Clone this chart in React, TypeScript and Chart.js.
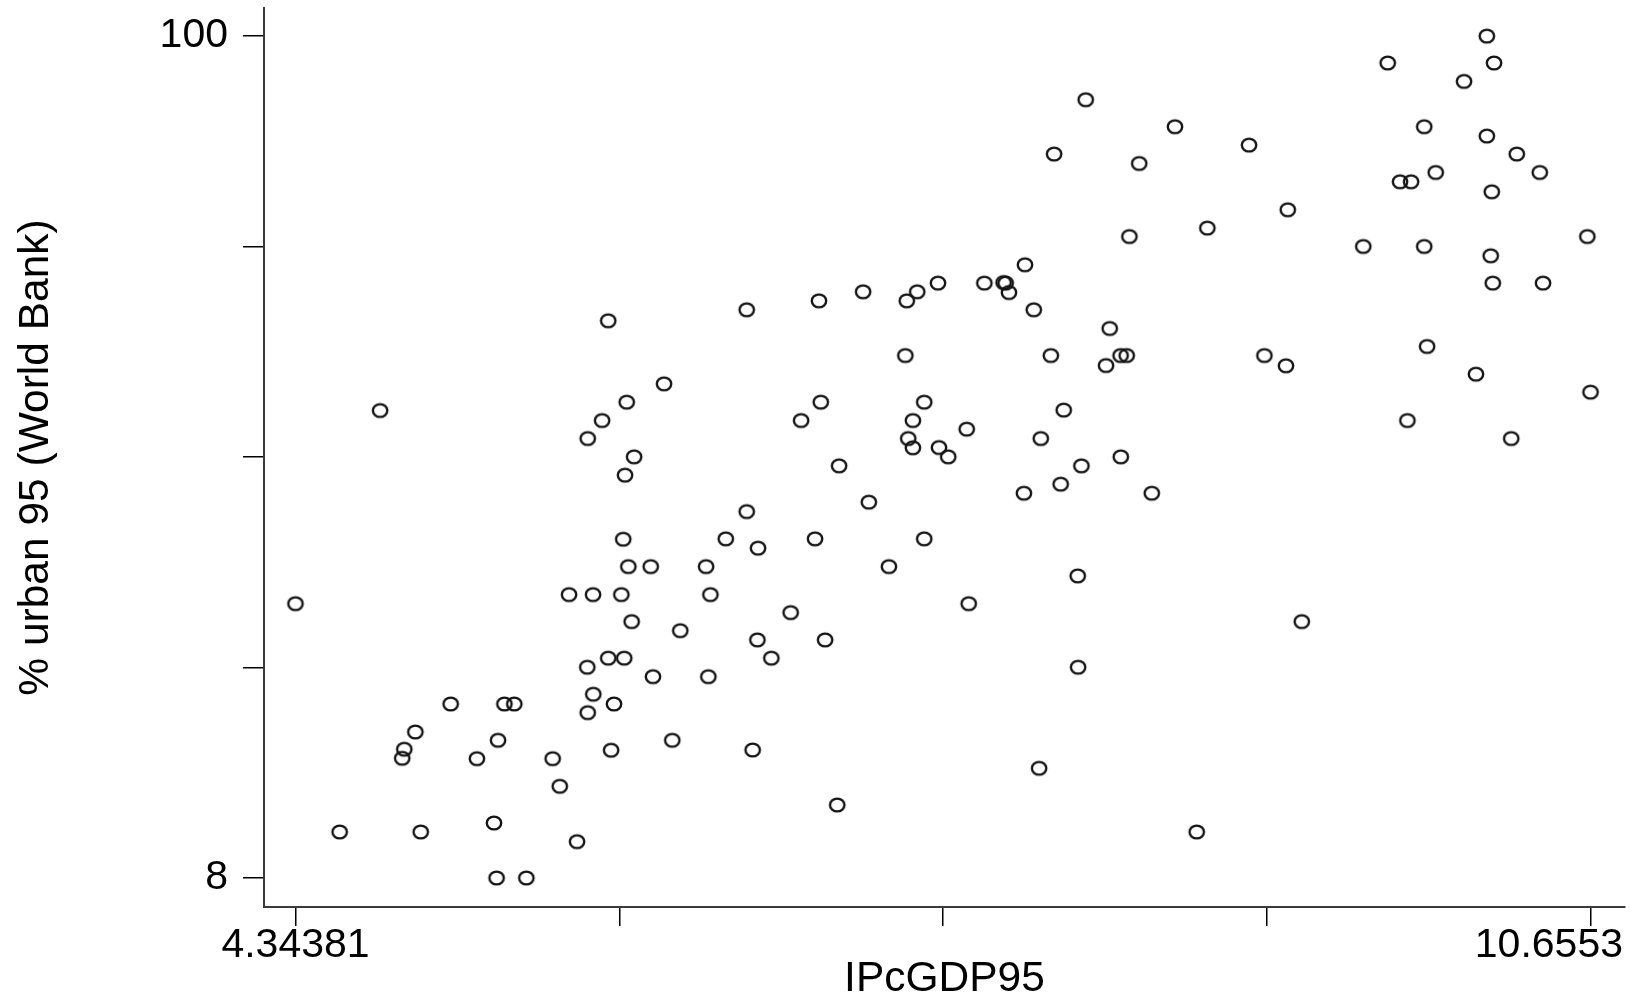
import React, { useEffect, useRef } from "react";
import { Chart, registerables } from "chart.js";

Chart.register(...registerables);

// log GDP per capita 1995
const lPcGDP95: number[] = [
  8.195, 8.041, 8.456, 8.408, 7.899, 6.543, 6.895, 7.110, 7.323, 7.374, 7.475, 7.701, 7.795, 7.805, 7.821, 7.942,
  10.150, 9.667, 10.185, 10.039, 8.630, 8.991, 9.845, 10.150, 10.296, 10.408, 9.901, 9.727, 9.781, 10.174, 9.180,
  8.788, 9.548, 9.845, 10.169, 10.640, 10.179, 10.424,
  5.868, 4.756, 6.140, 5.958, 5.838, 5.768, 5.994, 5.950, 4.34381, 5.941, 5.966, 6.075, 6.345, 5.677, 5.794, 5.932,
  6.366, 5.982, 6.219,
  8.312, 7.316, 8.025, 8.294, 8.365, 8.395, 6.904, 6.808, 7.408, 7.353, 7.330, 7.353, 7.480, 7.525, 7.615, 8.088,
  7.976, 8.366, 8.174, 8.073, 7.894, 8.517, 6.993, 7.138, 6.543, 6.441, 6.598, 6.876, 7.408, 7.236, 8.156, 6.757,
  7.625, 6.595, 6.925, 6.663, 8.158, 6.572, 7.968, 6.984,
  5.868, 5.946, 5.766, 6.086, 6.356, 5.100, 5.362, 5.410, 5.795, 5.896, 5.768, 4.928, 4.874, 4.864, 5.228, 5.331,
  5.597, 5.882, 6.180, 5.632, 4.559, 4.954, 5.311, 5.716, 5.324, 5.469,
  9.066, 9.171, 9.859, 10.097, 10.6553, 9.763, 10.269, 9.248, 8.736,
];

// % urban 1995 (World Bank)
const urban95: number[] = [
  93.05, 87.11, 86.08, 78.10, 75.01, 70.09, 71.07, 72.06, 71.07, 72.06, 73.01, 73.01, 73.07, 73.01, 71.98, 70.09,
  100.0, 97.06, 97.06, 95.05, 90.10, 88.09, 90.10, 89.08, 87.11, 85.10, 85.10, 84.08, 84.08, 82.99, 81.02,
  79.02, 77.01, 77.01, 75.99, 78.10, 73.01, 73.01,
  68.89, 59.08, 62.00, 60.00, 57.99, 56.02, 54.02, 52.02, 37.98, 45.02, 42.03, 42.03, 42.03, 38.97, 38.97, 38.97,
  38.97, 36.02, 35.03,
  68.05, 65.09, 65.09, 64.00, 65.09, 65.09, 60.00, 57.99, 60.00, 57.99, 56.02, 55.01, 55.04, 54.02, 57.05, 59.13,
  56.02, 54.02, 53.04, 51.04, 50.05, 50.05, 53.04, 49.07, 48.04, 45.06, 44.04, 45.06, 45.06, 42.03, 41.01, 37.00,
  37.98, 34.02, 34.02, 32.02, 31.03, 21.99, 19.99, 15.98,
  32.02, 32.02, 31.03, 30.00, 30.00, 27.02, 27.02, 27.02, 28.08, 27.02, 26.07, 23.96, 22.07, 21.08, 21.04, 23.05,
  21.04, 21.96, 23.05, 18.02, 13.03, 13.03, 14.01, 11.97, 8.00, 8.00,
  65.09, 63.97, 66.08, 63.06, 61.09, 57.99, 56.02, 36.02, 13.03,
];

const xTickValues: number[] = [4.34381, 5.921683, 7.499555, 9.077428, 10.6553];
const xTickLabels: string[] = ["4.34381", "", "", "", "10.6553"];
const yTickValues: number[] = [8, 31, 54, 77, 100];
const yTickLabels: string[] = ["8", "", "", "", "100"];

const xTitle = "IPcGDP95";
const yTitle = "% urban 95 (World Bank)";

const FONT = "'Liberation Sans', Arial, Helvetica, sans-serif";

function makeMarker(): HTMLCanvasElement {
  const c = document.createElement("canvas");
  c.width = 20;
  c.height = 18;
  const g = c.getContext("2d")!;
  g.strokeStyle = "#141414";
  g.lineWidth = 2.4;
  g.beginPath();
  g.ellipse(10, 9, 7.2, 6.4, 0, 0, Math.PI * 2);
  g.stroke();
  return c;
}

function zeroPad(s: any) {
  s.paddingLeft = 0;
  s.paddingRight = 0;
  s.paddingTop = 0;
  s.paddingBottom = 0;
}

// Draws the x tick labels, keeping the last one inside the canvas (as Stata does)
const xLabelPlugin = {
  id: "xLabelPlugin",
  afterDraw(chart: any) {
    const scale = chart.scales.x;
    const ctx = chart.ctx;
    ctx.save();
    ctx.font = `41px ${FONT}`;
    ctx.fillStyle = "#000";
    ctx.textAlign = "center";
    ctx.textBaseline = "middle";
    const y = scale.top + 39;
    xTickValues.forEach((v, i) => {
      const label = xTickLabels[i];
      if (!label) return;
      let x = scale.getPixelForValue(v);
      const w = ctx.measureText(label).width;
      const maxX = chart.width - 8 - w / 2;
      if (x > maxX) x = maxX;
      ctx.fillText(label, x, y);
    });
    ctx.restore();
  },
};

export default function App() {
  const ref = useRef<HTMLCanvasElement | null>(null);

  useEffect(() => {
    if (!ref.current) return;
    const marker = makeMarker();
    const data = lPcGDP95.map((x, i) => ({ x, y: urban95[i] }));
    const chart = new Chart(ref.current, {
      type: "scatter",
      data: {
        datasets: [
          {
            data,
            pointStyle: marker as any,
            pointRadius: 8,
            borderColor: "#141414",
            backgroundColor: "rgba(0,0,0,0)",
          },
        ],
      },
      plugins: [xLabelPlugin],
      options: {
        animation: false,
        responsive: false,
        devicePixelRatio: 1,
        layout: { autoPadding: false, padding: { left: 0, top: 8, right: 6, bottom: 0 } },
        plugins: { legend: { display: false }, tooltip: { enabled: false } },
        scales: {
          x: {
            type: "linear",
            min: 4.1903,
            max: 10.8234,
            afterBuildTicks: (s: any) => {
              s.ticks = xTickValues.map((v) => ({ value: v }));
            },
            afterFit: (s: any) => {
              s.height = 89;
              zeroPad(s);
            },
            ticks: {
              display: false,
              autoSkip: false,
              maxRotation: 0,
              minRotation: 0,
            },
            grid: {
              drawOnChartArea: false,
              drawTicks: true,
              tickLength: 19,
              color: "#000",
              lineWidth: 1.5,
            },
            border: { display: true, color: "#3a3a3a", width: 2 },
            title: {
              display: true,
              text: xTitle,
              color: "#000",
              font: { family: FONT, size: 42.5, lineHeight: 1 },
              padding: { top: 0, bottom: -5 },
            },
          },
          y: {
            type: "linear",
            min: 4.83,
            max: 103.07,
            afterBuildTicks: (s: any) => {
              s.ticks = yTickValues.map((v) => ({ value: v }));
            },
            afterFit: (s: any) => {
              s.width = 264;
              zeroPad(s);
            },
            ticks: {
              autoSkip: false,
              padding: 15,
              color: "#000",
              font: { family: FONT, size: 41, lineHeight: 1 },
              callback: (_v: any, i: number) => yTickLabels[i],
            },
            grid: {
              drawOnChartArea: false,
              drawTicks: true,
              tickLength: 21,
              color: "#000",
              lineWidth: 1.5,
            },
            border: { display: true, color: "#3a3a3a", width: 2 },
            title: {
              display: true,
              text: yTitle,
              color: "#000",
              font: { family: FONT, size: 42.5, lineHeight: 1 },
              padding: { top: 15, bottom: 0 },
            },
          },
        },
      },
    });
    return () => chart.destroy();
  }, []);

  return (
    <div style={{ position: "fixed", left: 0, top: 0, width: 1631, height: 996, background: "#fff" }}>
      <canvas ref={ref} width={1631} height={996} style={{ width: 1631, height: 996, display: "block" }} />
    </div>
  );
}
